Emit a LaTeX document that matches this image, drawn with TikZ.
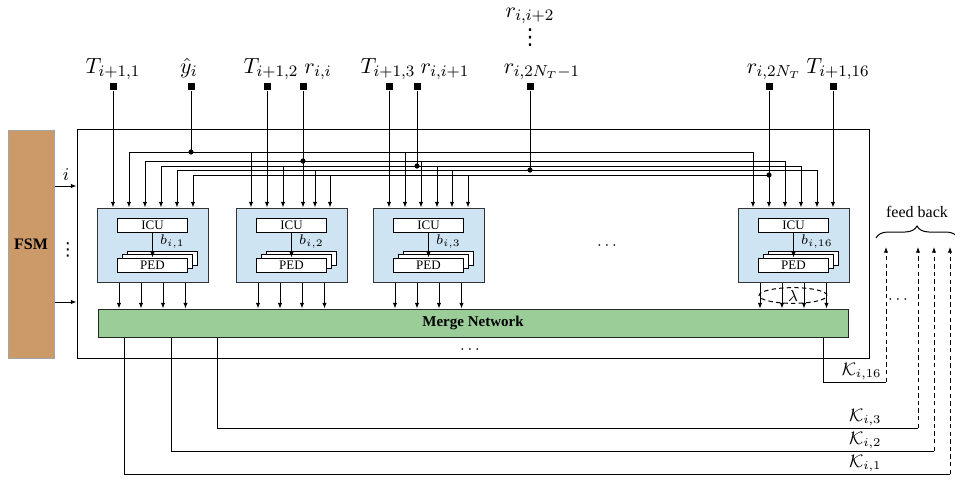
\documentclass[tikz,border=0pt]{standalone}
\usepackage{fontspec}
\setmainfont{Liberation Serif}
\newfontfamily\symfont{DejaVu Sans}
\usetikzlibrary{arrows.meta,calc,shapes.geometric,decorations.pathreplacing}
\definecolor{blkfill}{RGB}{206,228,242}
\definecolor{mergefill}{RGB}{155,205,153}
\definecolor{fsmfill}{RGB}{204,153,104}
\definecolor{fsmline}{RGB}{165,165,165}
\newcommand\peublock[3]{%
  \node[blk] (#1) at (#2,245) {};
  \node[subbox] (#1pc) at ($(#2,265)+(10,-7)$) {};
  \node[subbox] (#1pb) at ($(#2,265)+(5,-3.5)$) {};
  \node[subbox] (#1ped) at (#2,265) {PED};
  \node[subbox] (#1icu) at (#2,225) {ICU};
  \draw[arr] (#1icu) -- (#1ped);
  \node[blab] (#1b) at ($(#1icu.south)+(7,9)$) {$b_{i,#3}$};
}
\begin{document}
\begin{tikzpicture}[x=0.5pt,y=-0.5pt,line width=0.5pt,
  arr/.style={-{Latex[length=2.8pt,width=2.2pt]}},
  fbline/.style={dash pattern=on 2.2pt off 1.6pt},
  blk/.style={draw=black!80,fill=blkfill,minimum width=55.5pt,minimum height=37pt,inner sep=0},
  subbox/.style={draw,fill=white,minimum width=35pt,minimum height=7pt,inner sep=0,font=\fontsize{6.5}{7}\selectfont},
  blab/.style={anchor=west,inner sep=0,font=\fontsize{7.5}{8}\selectfont},
  term/.style={fill=black,minimum size=3.5pt,inner sep=0},
  toplab/.style={anchor=base,inner sep=0,font=\fontsize{11}{13}\selectfont},
  klab/.style={anchor=south east,inner sep=1pt,font=\fontsize{9}{10}\selectfont},
  dotsty/.style={inner sep=0,font=\fontsize{8}{9}\selectfont}]
\useasboundingbox (0,0) rectangle (955,479);

% FSM and outer frame
\node[draw=fsmline,fill=fsmfill,minimum width=23pt,minimum height=114pt,inner sep=0,
      font=\fontsize{8}{9}\selectfont\bfseries] (fsm) at (31,244) {FSM};
\node[draw,minimum width=396pt,minimum height=114.5pt,inner sep=0] (outer) at (473,243.5) {};
\draw[arr] (fsm.east |- 0,186) -- (outer.west |- 0,186);
\draw[arr] (fsm.east |- 0,302) -- (outer.west |- 0,302);
\node[inner sep=0,font=\fontsize{9}{10}\selectfont] (ilab) at (66,175) {$i$};
\node[inner sep=0,font=\fontsize{9}{9}\symfont] (fsmdots) at (68,250) {⋮};

% blocks
\peublock{b1}{152.5}{1}
\peublock{b2}{291.5}{2}
\peublock{b3}{428.5}{3}
\peublock{b16}{793.5}{16}
\node[dotsty] (bdots) at (607,246) {$\cdots$};

% merge network
\node[draw=black!85,fill=mergefill,minimum width=375pt,minimum height=14pt,inner sep=0,
      font=\fontsize{7.5}{8}\selectfont\bfseries] (mn) at (473,323) {Merge Network};
\node[dotsty] (mdots) at (470,350) {$\cdots$};

% top terminals
\node[term] (t1) at (113,86.5) {};
\node[term] (ty) at (191,86.5) {};
\node[term] (t2) at (267,86.5) {};
\node[term] (rii) at (303,86.5) {};
\node[term] (t3) at (389,86.5) {};
\node[term] (ri1) at (417,86.5) {};
\node[term] (rN1) at (530,86.5) {};
\node[term] (rN) at (769,86.5) {};
\node[term] (t16) at (833,86.5) {};

\node[toplab] (lt1) at (113,73) {$T_{i+1,1}$};
\node[toplab] (lty) at (189,73) {$\hat{y}_i$};
\node[toplab] (lt2) at (271,73) {$T_{i+1,2}$};
\node[toplab] (lrii) at (318,73) {$r_{i,i}$};
\node[toplab] (lt3) at (388,73) {$T_{i+1,3}$};
\node[toplab] (lri1) at (445,73) {$r_{i,i+1}$};
\node[toplab] (lrN1) at (542,73) {$r_{i,2N_T-1}$};
\node[toplab] (lri2) at (530,17) {$r_{i,i+2}$};
\node[inner sep=0,font=\fontsize{11}{11}\symfont] (rdots) at (530,38) {⋮};
\node[toplab] (lrN) at (774,73) {$r_{i,2N_T}$};
\node[toplab] (lt16) at (838,73) {$T_{i+1,16}$};

% junctions
\coordinate (jy) at (191,152);
\coordinate (jr1) at (303,161);
\coordinate (jr2) at (417,166);
\coordinate (jr3) at (530,170);
\coordinate (jr4) at (769,175);

% direct inputs
\draw[arr] (t1) -- (t1 |- b1.north);
\draw[arr] (t2) -- (t2 |- b2.north);
\draw[arr] (t3) -- (t3 |- b3.north);
\draw[arr] (t16) -- (t16 |- b16.north);
\draw[arr] (rii) -- (rii |- b2.north);
\draw[arr] (rN) -- (rN |- b16.north);
\draw (ty) -- (jy);
\draw (ri1) -- (jr2);
\draw (rN1) -- (jr3);

% buses
\foreach \x/\b in {129/b1,251/b2,405/b3,753/b16} \draw[arr] (jy) -| (\x,0 |- \b.north);
\foreach \x/\b in {145/b1,421/b3,785/b16} \draw[arr] (jr1) -| (\x,0 |- \b.north);
\foreach \x/\b in {161/b1,283/b2,437/b3,801/b16} \draw[arr] (jr2) -| (\x,0 |- \b.north);
\foreach \x/\b in {177/b1,315/b2,452/b3,817/b16} \draw[arr] (jr3) -| (\x,0 |- \b.north);
\foreach \x/\b in {193/b1,330/b2,468/b3} \draw[arr] (jr4) -| (\x,0 |- \b.north);
\foreach \j in {jy,jr1,jr2,jr3,jr4} \fill (\j) circle[radius=1.3pt];

% block outputs
\foreach \b in {b1,b2,b3,b16}
  \foreach \o in {22.5,44.5,66.5,89}
  { \coordinate (o) at ($(\b.south west)+(\o,0)$);
    \draw[arr] (o) -- (o |- mn.north); }
\node[draw,ellipse,inner sep=0,minimum width=34pt,minimum height=7.5pt,fbline,
      font=\fontsize{8}{8}\selectfont] (lam) at (793,295.5) {$\lambda$};

% merge outputs and feedback
\coordinate (k1) at (950,474);
\coordinate (k2) at (934,451);
\coordinate (k3) at (918,428);
\coordinate (k16) at (886,382);
\coordinate (f1) at (950,247);
\coordinate (f2) at (934,247);
\coordinate (f3) at (918,247);
\coordinate (f16) at (886,247);
\draw (mn.south -| 124,0) |- (k1);
\draw (mn.south -| 171,0) |- (k2);
\draw (mn.south -| 217,0) |- (k3);
\draw (mn.south -| 823,0) |- (k16);
\foreach \i in {1,2,3,16} \draw[fbline,arr] (k\i) -- (f\i);
\node[klab] (lk1) at (884,474) {$\mathcal{K}_{i,1}$};
\node[klab] (lk2) at (884,451) {$\mathcal{K}_{i,2}$};
\node[klab] (lk3) at (884,428) {$\mathcal{K}_{i,3}$};
\node[klab] (lk16) at (884,382) {$\mathcal{K}_{i,16}$};
\node[dotsty] (fdots) at (898,300) {$\cdots$};

\draw[decorate,decoration={brace,amplitude=6pt}] (876,238) -- (958,238);
\node[inner sep=0,font=\fontsize{8}{9}\selectfont] (fb) at (917,212) {feed back};
\end{tikzpicture}
\end{document}
